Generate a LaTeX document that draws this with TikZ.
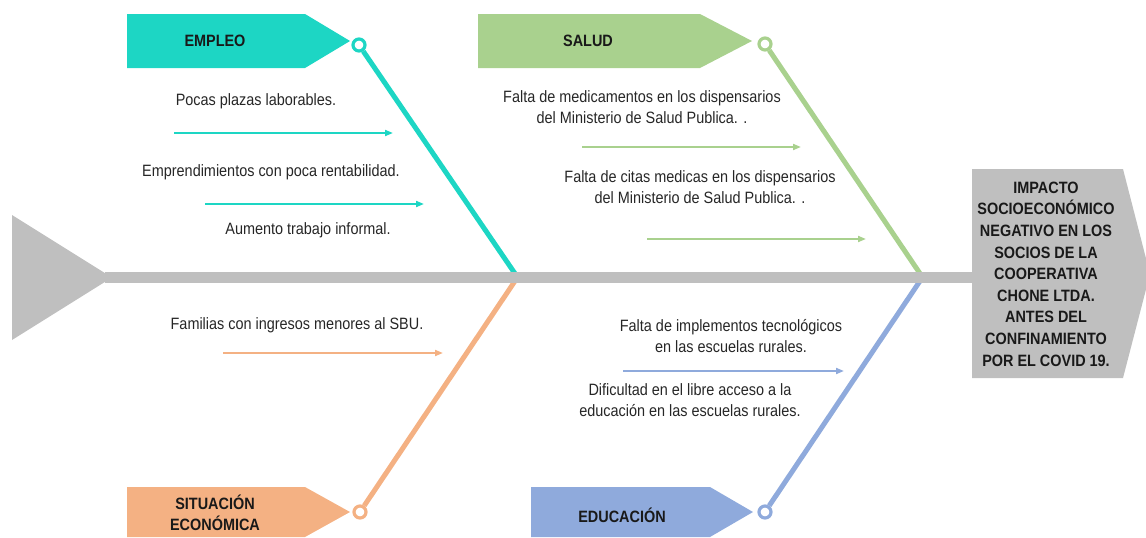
\documentclass[tikz,border=0pt]{standalone}
\usepackage{fontspec}
\setmainfont{Liberation Sans}[FakeStretch=0.88]
\usetikzlibrary{arrows.meta}
\definecolor{empleoteal}{HTML}{1DD6C4}
\definecolor{saludgreen}{HTML}{A9D18E}
\definecolor{economiaorange}{HTML}{F4B183}
\definecolor{educacionblue}{HTML}{8FAADC}
\definecolor{spinegray}{HTML}{BFBFBF}

\begin{document}
\begin{tikzpicture}[x=1pt, y=-1pt,
  font=\fontsize{16.4}{20.5}\selectfont,
  cause/.style={align=center, inner sep=0pt, text=black!85},
  header/.style={font=\fontsize{16.4}{21.6}\selectfont\bfseries, align=center, inner sep=0pt, text=black!90},
  bone/.style={line width=5pt},
  joint/.style={circle, line width=3.2pt, fill=white, minimum size=12pt, inner sep=0pt},
  causearrow/.style={-{Triangle[length=8pt,width=6pt]}, line width=1.8pt}
]
\useasboundingbox (0,0) rectangle (1146,538);

% tail and head
\fill[spinegray] (12,215) -- (112,277.5) -- (12,340) -- cycle;
\fill[spinegray] (972,169) -- (1123,169) -- (1150,274) -- (1123,378) -- (972,378) -- cycle;
\node[header] (effect) at (1046,274) {IMPACTO\\SOCIOECONÓMICO\\NEGATIVO EN LOS\\SOCIOS DE LA\\COOPERATIVA\\CHONE LTDA.\\ANTES DEL\\CONFINAMIENTO\\POR EL COVID 19.};
\coordinate (tail) at (105,277.5);
\coordinate (headin) at (972,277.5);

% category tags
\fill[empleoteal] (127,14) -- (305,14) -- (350,41) -- (305,68) -- (127,68) -- cycle;
\node[header] (empleo) at (215,41) {EMPLEO};
\fill[saludgreen] (478,14) -- (700,14) -- (752,41) -- (700,68) -- (478,68) -- cycle;
\node[header] (salud) at (588,41) {SALUD};
\fill[economiaorange] (127,487) -- (305,487) -- (350,512) -- (305,537) -- (127,537) -- cycle;
\node[header] (economia) at (215,513) {SITUACIÓN\\ECONÓMICA};
\fill[educacionblue] (531,487) -- (710,487) -- (753,512) -- (710,537) -- (531,537) -- cycle;
\node[header] (educacion) at (622,515) {EDUCACIÓN};

% bones
\coordinate (sEmpleo) at (518,278);
\coordinate (sSalud) at (923,278);
\coordinate (sEconomia) at (517,278);
\coordinate (sEducacion) at (922,278);
\node[joint, draw=empleoteal] (jEmpleo) at (359,45) {};
\node[joint, draw=saludgreen] (jSalud) at (765,44) {};
\node[joint, draw=economiaorange] (jEconomia) at (360,512) {};
\node[joint, draw=educacionblue] (jEducacion) at (765,512) {};
\draw[bone, empleoteal] (jEmpleo) -- (sEmpleo);
\draw[bone, saludgreen] (jSalud) -- (sSalud);
\draw[bone, economiaorange] (jEconomia) -- (sEconomia);
\draw[bone, educacionblue] (jEducacion) -- (sEducacion);

% spine
\draw[spinegray, line width=11pt] (tail) -- (headin);

% causes: empleo
\node[cause] (plazas) at (256,101) {Pocas plazas laborables.};
\coordinate (e1a) at (174,133); \coordinate (e1b) at (393,133);
\draw[causearrow, empleoteal] (e1a) -- (e1b);
\node[cause] (emprend) at (271,172) {Emprendimientos con poca rentabilidad.};
\coordinate (e2a) at (205,204); \coordinate (e2b) at (424,204);
\draw[causearrow, empleoteal] (e2a) -- (e2b);
\node[cause] (informal) at (308,230) {Aumento trabajo informal.};

% causes: salud
\node[cause] (medicam) at (642,107) {Falta de medicamentos en los dispensarios\\del Ministerio de Salud Publica. .};
\coordinate (s1a) at (582,147); \coordinate (s1b) at (801,147);
\draw[causearrow, saludgreen] (s1a) -- (s1b);
\node[cause] (citas) at (700,187) {Falta de citas medicas en los dispensarios\\del Ministerio de Salud Publica. .};
\coordinate (s2a) at (647,239); \coordinate (s2b) at (866,239);
\draw[causearrow, saludgreen] (s2a) -- (s2b);

% causes: situacion economica
\node[cause] (ingresos) at (297,325) {Familias con ingresos menores al SBU.};
\coordinate (f1a) at (223,353); \coordinate (f1b) at (443,353);
\draw[causearrow, economiaorange] (f1a) -- (f1b);

% causes: educacion
\node[cause] (implem) at (731,336) {Falta de implementos tecnológicos\\en las escuelas rurales.};
\coordinate (d1a) at (623,371); \coordinate (d1b) at (844,371);
\draw[causearrow, educacionblue] (d1a) -- (d1b);
\node[cause] (acceso) at (690,400) {Dificultad en el libre acceso a la\\educación en las escuelas rurales.};

\end{tikzpicture}
\end{document}
